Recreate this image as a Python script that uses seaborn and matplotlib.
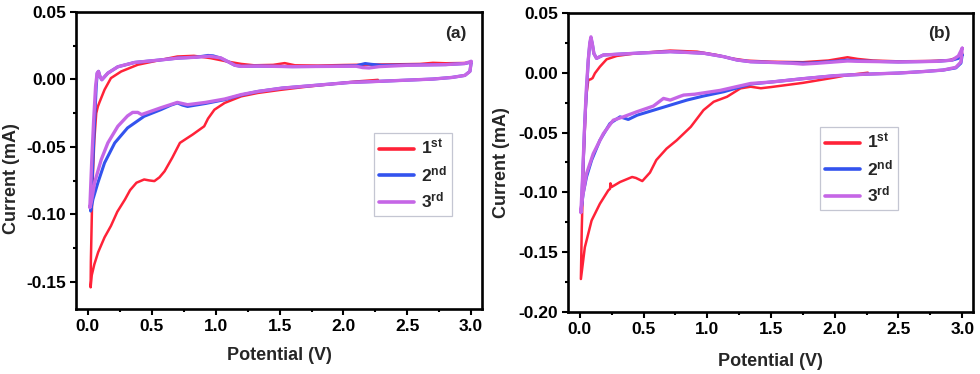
import matplotlib
matplotlib.use("Agg")
import matplotlib.pyplot as plt
import matplotlib.ticker as mticker
import pandas as pd
import seaborn as sns

sns.set_theme(style="ticks")
plt.rcParams.update({
    "font.family": ["Liberation Sans", "DejaVu Sans"],
    "font.weight": "bold",
    "axes.labelweight": "bold",
    "mathtext.fontset": "custom",
    "mathtext.rm": "Liberation Sans:bold",
    "mathtext.it": "Liberation Sans:bold",
    "mathtext.bf": "Liberation Sans:bold",
    "axes.linewidth": 1.9,
    "axes.edgecolor": "black",
    "xtick.direction": "out",
    "ytick.direction": "out",
    "xtick.color": "black",
    "ytick.color": "black",
})

cycles = ["1st", "2nd", "3rd"]
cycle_labels = [r"$1^{st}$", r"$2^{nd}$", r"$3^{rd}$"]
colors = {"1st": "#ff2238", "2nd": "#3353ee", "3rd": "#c566e6"}
widths = {"1st": 1.8, "2nd": 2.2, "3rd": 2.4}

# ---- panel (a) ----
a1_v = [2.27, 2.10, 1.90, 1.70, 1.50, 1.33, 1.20, 1.07, 0.99, 0.94, 0.91, 0.82, 0.76, 0.72, 0.66,
        0.60, 0.56, 0.52, 0.48, 0.44, 0.38, 0.33, 0.29, 0.23, 0.18, 0.13, 0.08, 0.05, 0.03, 0.021,
        0.023, 0.035, 0.05, 0.065, 0.078, 0.09, 0.13, 0.18, 0.26, 0.39, 0.57, 0.70, 0.83, 0.96, 1.09,
        1.20, 1.30, 1.45, 1.54, 1.62, 1.80, 2.00, 2.20, 2.40, 2.60, 2.70, 2.80, 2.95, 3.0]
a1_i = [-0.0003, -0.0015, -0.0035, -0.0055, -0.0078, -0.010, -0.0125, -0.0174, -0.0224, -0.029,
        -0.0347, -0.0408, -0.0445, -0.047, -0.058, -0.068, -0.0725, -0.0753, -0.0748, -0.0741,
        -0.0765, -0.082, -0.0889, -0.098, -0.1085, -0.117, -0.128, -0.137, -0.145, -0.154,
        -0.135, -0.08, -0.045, -0.025, -0.020, -0.017, -0.0076, 0.001, 0.0059, 0.0109, 0.0145,
        0.017, 0.0175, 0.0158, 0.0133, 0.0115, 0.0105, 0.0108, 0.0121, 0.0105, 0.0103, 0.0107,
        0.011, 0.0112, 0.0115, 0.0123, 0.012, 0.0122, 0.0128]

a2_v = [3.0, 2.99, 2.95, 2.85, 2.70, 2.50, 2.25, 2.05, 1.80, 1.52, 1.33, 1.20, 1.07, 0.92, 0.78,
        0.74, 0.70, 0.65, 0.57, 0.44, 0.31, 0.21, 0.13, 0.078, 0.039, 0.021,
        0.035, 0.05, 0.065, 0.073, 0.083, 0.095, 0.109, 0.156, 0.234, 0.365, 0.573, 0.703, 0.85,
        0.94, 0.98, 1.04, 1.10, 1.15, 1.20, 1.33, 1.60, 1.90, 2.10, 2.17, 2.22, 2.30, 2.50, 2.80,
        2.95, 3.0]
a2_i = [0.0125, 0.006, 0.003, 0.0015, 0.0003, -0.0005, -0.0015, -0.0022, -0.0042, -0.0064, -0.0089,
        -0.0115, -0.015, -0.0178, -0.020, -0.019, -0.0174, -0.019, -0.0224, -0.0273, -0.0359,
        -0.047, -0.0618, -0.0765, -0.0889, -0.0975,
        -0.07, -0.035, -0.005, 0.0047, 0.006, 0.002, -0.0002, 0.0047, 0.0094, 0.0126, 0.0145,
        0.0158, 0.0165, 0.0178, 0.0175, 0.0158, 0.013, 0.0105, 0.0097, 0.0099, 0.0095, 0.0097,
        0.0102, 0.0118, 0.0112, 0.0105, 0.0107, 0.011, 0.0118, 0.0128]

a3_v = [3.0, 2.99, 2.95, 2.85, 2.70, 2.50, 2.25, 2.05, 1.80, 1.52, 1.33, 1.20, 1.07, 0.92, 0.78,
        0.70, 0.57, 0.42, 0.39, 0.35, 0.31, 0.234, 0.156, 0.104, 0.052, 0.026, 0.015,
        0.03, 0.045, 0.06, 0.072, 0.082, 0.095, 0.109, 0.156, 0.234, 0.365, 0.573, 0.703, 0.85,
        0.95, 1.04, 1.10, 1.15, 1.20, 1.33, 1.60, 1.90, 2.10, 2.15, 2.20, 2.28, 2.50, 2.80, 2.95, 3.0]
a3_i = [0.013, 0.006, 0.003, 0.0015, 0.0003, -0.0005, -0.0015, -0.0022, -0.0042, -0.0064, -0.0089,
        -0.0112, -0.0145, -0.017, -0.0187, -0.017, -0.021, -0.026, -0.0244, -0.0244, -0.027,
        -0.0347, -0.047, -0.0594, -0.0765, -0.091, -0.095,
        -0.06, -0.03, -0.005, 0.0047, 0.006, 0.002, -0.0002, 0.0047, 0.0094, 0.0126, 0.0145,
        0.0158, 0.0165, 0.0172, 0.016, 0.013, 0.0105, 0.0097, 0.0099, 0.0095, 0.0097, 0.0098,
        0.0088, 0.0085, 0.0095, 0.0105, 0.011, 0.0118, 0.0135]

# ---- panel (b) ----
b1_v = [2.26, 2.10, 2.00, 1.75, 1.50, 1.42, 1.34, 1.26, 1.155, 1.05, 0.97, 0.87, 0.76, 0.68, 0.60,
        0.55, 0.49, 0.44, 0.41, 0.315, 0.25, 0.24, 0.237, 0.223, 0.157, 0.092, 0.039, 0.008,
        0.015, 0.03, 0.05, 0.066, 0.085, 0.10, 0.118, 0.157, 0.21, 0.289, 0.446, 0.709, 0.919,
        1.076, 1.18, 1.312, 1.50, 1.75, 1.95, 2.05, 2.10, 2.18, 2.30, 2.50, 2.75, 2.90, 2.97, 3.0]
b1_i = [0.0, -0.002, -0.004, -0.0085, -0.012, -0.013, -0.0117, -0.0131, -0.0201, -0.0243, -0.0313,
        -0.0453, -0.0565, -0.0635, -0.073, -0.0835, -0.0906, -0.088, -0.0872, -0.0914, -0.0955,
        -0.0925, -0.097, -0.0984, -0.1096, -0.1236, -0.146, -0.1725,
        -0.13, -0.07, -0.02, -0.0061, -0.0055, -0.0045, -0.0005, 0.005, 0.0112, 0.014, 0.0163,
        0.0185, 0.0176, 0.0148, 0.0121, 0.0101, 0.0092, 0.0088, 0.0102, 0.012, 0.0129, 0.0115,
        0.0102, 0.0095, 0.0098, 0.0105, 0.013, 0.0163]

b2_v = [3.0, 2.99, 2.95, 2.85, 2.70, 2.50, 2.25, 2.00, 1.75, 1.50, 1.34, 1.13, 0.97, 0.84, 0.71,
        0.58, 0.45, 0.38, 0.315, 0.236, 0.157, 0.092, 0.052, 0.026, 0.013,
        0.025, 0.039, 0.055, 0.066, 0.078, 0.087, 0.098, 0.11, 0.131, 0.184, 0.446, 0.709, 0.971,
        1.129, 1.234, 1.339, 1.50, 1.70, 1.80, 2.00, 2.10, 2.20, 2.50, 2.80, 2.92, 2.97, 3.0]
b2_i = [0.015, 0.008, 0.004, 0.0022, 0.001, -0.0003, -0.0012, -0.0025, -0.005, -0.0078, -0.0095,
        -0.0159, -0.0195, -0.0229, -0.0271, -0.0313, -0.0355, -0.0391, -0.0369, -0.0425, -0.0565,
        -0.0732, -0.0872, -0.101, -0.112,
        -0.08, -0.04, -0.01, 0.0107, 0.024, 0.029, 0.024, 0.016, 0.012, 0.0148, 0.0163, 0.0176,
        0.0163, 0.0134, 0.0106, 0.0092, 0.0086, 0.0082, 0.008, 0.0095, 0.0105, 0.0098, 0.009,
        0.0095, 0.0105, 0.012, 0.015]

b3_v = [3.0, 2.99, 2.95, 2.85, 2.70, 2.50, 2.25, 2.00, 1.75, 1.50, 1.34, 1.10, 0.90, 0.814, 0.78,
        0.709, 0.656, 0.577, 0.446, 0.341, 0.262, 0.184, 0.105, 0.052, 0.021, 0.008,
        0.02, 0.035, 0.05, 0.066, 0.078, 0.087, 0.098, 0.11, 0.131, 0.184, 0.446, 0.709, 0.971,
        1.129, 1.234, 1.339, 1.50, 1.65, 1.75, 1.85, 2.00, 2.10, 2.20, 2.50, 2.80, 2.92, 2.97, 3.0]
b3_i = [0.0205, 0.009, 0.0045, 0.0022, 0.001, -0.0003, -0.0012, -0.0025, -0.005, -0.0078, -0.009,
        -0.0148, -0.018, -0.0187, -0.020, -0.0229, -0.0215, -0.0279, -0.0327, -0.0369, -0.0397,
        -0.051, -0.0677, -0.0845, -0.104, -0.117,
        -0.09, -0.05, -0.015, 0.0107, 0.025, 0.030, 0.024, 0.016, 0.012, 0.0148, 0.0163, 0.0176,
        0.0163, 0.0134, 0.0106, 0.0092, 0.0086, 0.008, 0.0072, 0.0078, 0.009, 0.0098, 0.0095,
        0.009, 0.0095, 0.0105, 0.014, 0.0205]


def make_df(series):
    frames = []
    for name, (v, i) in zip(cycles, series):
        frames.append(pd.DataFrame({"Potential": v, "Current": i, "Cycle": name}))
    return pd.concat(frames, ignore_index=True)


panels = [
    dict(df=make_df([(a1_v, a1_i), (a2_v, a2_i), (a3_v, a3_i)]),
         rect=[0.0776, 0.174, 0.4143, 0.794], ylim=(-0.17, 0.05), tag="(a)",
         tag_xy=(0.935, 0.928), leg_xy=(0.734, 0.593), ylab_y=0.438, xlab_y=-0.158,
         ylab_x=-0.158),
    dict(df=make_df([(b1_v, b1_i), (b2_v, b2_i), (b3_v, b3_i)]),
         rect=[0.5796, 0.166, 0.4133, 0.7995], ylim=(-0.20, 0.05), tag="(b)",
         tag_xy=(0.918, 0.932), leg_xy=(0.622, 0.619), ylab_y=0.5, xlab_y=-0.166,
         ylab_x=-0.163),
]

fig = plt.figure(figsize=(9.8, 3.74), dpi=100)

for p in panels:
    ax = fig.add_axes(p["rect"])
    sns.lineplot(data=p["df"], x="Potential", y="Current", hue="Cycle", hue_order=cycles,
                 palette=colors, sort=False, estimator=None, legend=False, ax=ax)
    for line, c in zip(ax.lines, cycles):
        line.set_linewidth(widths[c])
        line.set_solid_joinstyle("round")

    ax.set_xlim(-0.093, 3.085)
    ax.set_ylim(*p["ylim"])
    ax.xaxis.set_major_locator(mticker.MultipleLocator(0.5))
    ax.xaxis.set_minor_locator(mticker.MultipleLocator(0.25))
    ax.yaxis.set_major_locator(mticker.MultipleLocator(0.05))
    ax.yaxis.set_minor_locator(mticker.MultipleLocator(0.025))
    ax.xaxis.set_major_formatter(mticker.FormatStrFormatter("%.1f"))
    ax.yaxis.set_major_formatter(mticker.FormatStrFormatter("%.2f"))
    ax.tick_params(which="major", length=4.5, width=1.5, pad=2.5, labelsize=12.5)
    ax.tick_params(which="minor", length=2.5, width=1.5)
    ax.tick_params(top=False, right=False)

    ax.set_xlabel("Potential (V)", fontsize=13, fontweight="bold")
    ax.set_ylabel("Current (mA)", fontsize=13, fontweight="bold")
    ax.xaxis.set_label_coords(0.5, p["xlab_y"])
    ax.xaxis.label.set_verticalalignment("center")
    ax.yaxis.set_label_coords(p["ylab_x"], p["ylab_y"])
    ax.yaxis.label.set_verticalalignment("center")

    ax.text(*p["tag_xy"], p["tag"], transform=ax.transAxes, ha="center", va="center",
            fontsize=12.5, fontweight="bold")

    handles = [plt.Line2D([], [], color=colors[c], lw=2.6) for c in cycles]
    leg = ax.legend(handles, cycle_labels, loc="upper left", bbox_to_anchor=p["leg_xy"],
                    borderaxespad=0, frameon=True, fancybox=False, framealpha=1,
                    edgecolor="#c4c6d2", fontsize=12.5, handlelength=2.0, handletextpad=0.4,
                    labelspacing=0.38, borderpad=0.3)
    leg.get_frame().set_linewidth(0.9)

fig.savefig("out.png", dpi=100)
